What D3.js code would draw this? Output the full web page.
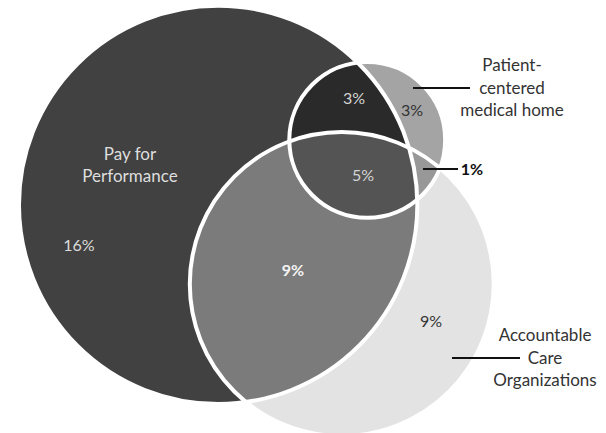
<!DOCTYPE html>
<html>
<head>
<meta charset="utf-8">
<script src="https://cdn.jsdelivr.net/npm/d3@7"></script>
<style>
  html, body { margin: 0; padding: 0; background: #fff; }
  svg { display: block; }
  text { font-family: Lato, "Open Sans", sans-serif; }
</style>
</head>
<body>
<div id="chart"></div>
<script>
// Program sets
const setNames = ["Pay for Performance", "Accountable Care Organizations", "Patient-centered medical home"];
const setKeys = ["p4p", "aco", "pcmh"];

// Share of respondents in each Venn region (percent)
const regionKeys   = ["p4p", "aco", "pcmh", "p4p_aco", "p4p_pcmh", "aco_pcmh", "all"];
const regionValues = [16, 9, 3, 9, 3, 1, 5];

// Circle layout in a 0–100 diagram space (centre x, centre y, radius)
const circleCx = [36.0, 56.4, 60.6];
const circleCy = [47.3, 65.6, 32.3];
const circleR  = [46.0, 35.1, 18.0];

const W = 606, H = 433;
const x = d3.scaleLinear().domain([0, 100]).range([0, 606]);
const y = d3.scaleLinear().domain([0, 100]).range([0, 433]);
const r = d3.scaleLinear().domain([0, 100]).range([0, 433]);

const circles = setKeys.map((k, i) => ({
  key: k, name: setNames[i],
  cx: x(circleCx[i]), cy: y(circleCy[i]), r: r(circleR[i])
}));
const C = Object.fromEntries(circles.map(c => [c.key, c]));
const val = Object.fromEntries(regionKeys.map((k, i) => [k, regionValues[i]]));

const svg = d3.select("#chart").append("svg").attr("width", W).attr("height", H);
const defs = svg.append("defs");

// one clip path per set circle
circles.forEach(c => {
  defs.append("clipPath").attr("id", "clip-" + c.key)
    .append("circle").attr("cx", c.cx).attr("cy", c.cy).attr("r", c.r);
});

function disc(parent, c, fill) {
  return parent.append("circle").attr("cx", c.cx).attr("cy", c.cy).attr("r", c.r).attr("fill", fill);
}

// region fills, painted from the outside in
disc(svg, C.aco, "#e3e3e3");
disc(svg, C.p4p, "#414141");
disc(svg.append("g").attr("clip-path", "url(#clip-p4p)"), C.aco, "#7b7b7b");
disc(svg, C.pcmh, "#a4a4a4");
disc(svg.append("g").attr("clip-path", "url(#clip-aco)"), C.pcmh, "#989898");
disc(svg.append("g").attr("clip-path", "url(#clip-p4p)"), C.pcmh, "#2a2a2a");
disc(svg.append("g").attr("clip-path", "url(#clip-p4p)")
        .append("g").attr("clip-path", "url(#clip-aco)"), C.pcmh, "#545454");

// white outlines of every set
svg.append("g").selectAll("circle").data(circles).join("circle")
  .attr("cx", d => d.cx).attr("cy", d => d.cy).attr("r", d => d.r)
  .attr("fill", "none").attr("stroke", "#fff").attr("stroke-width", 4);

// region value labels
const pct = v => v + "%";
const regionLabels = [
  { k: "p4p",      px: 79,  py: 251, fill: "#dcdcdc", bold: false },
  { k: "p4p_pcmh", px: 354, py: 104, fill: "#d4d4d4", bold: false },
  { k: "pcmh",     px: 412, py: 116, fill: "#333",    bold: false },
  { k: "all",      px: 363, py: 181, fill: "#d4d4d4", bold: false },
  { k: "p4p_aco",  px: 293, py: 276, fill: "#f4f4f4", bold: true },
  { k: "aco",      px: 431, py: 327, fill: "#333",    bold: false },
  { k: "aco_pcmh", px: 472, py: 175, fill: "#111",    bold: true }
];
svg.append("g").selectAll("text").data(regionLabels).join("text")
  .attr("x", d => d.px).attr("y", d => d.py)
  .attr("text-anchor", "middle")
  .attr("font-size", 16)
  .attr("font-weight", d => d.bold ? "bold" : "normal")
  .attr("fill", d => d.fill)
  .text(d => pct(val[d.k]));

// set name labels
function multiline(lines, cx, y0, lh, fill) {
  const t = svg.append("text").attr("text-anchor", "middle").attr("font-size", 17).attr("fill", fill);
  lines.forEach((s, i) => t.append("tspan").attr("x", cx).attr("y", y0 + i * lh).text(s));
}
multiline(["Pay for", "Performance"], 130, 160, 22, "#dedede");
multiline(["Patient-", "centered", "medical home"], 512, 71, 22.5, "#333");
multiline(["Accountable", "Care", "Organizations"], 545, 341, 22.5, "#333");

// leader lines
const leaders = [[413, 88, 470, 88], [423, 169, 458, 169], [452, 358, 520, 358]];
svg.append("g").selectAll("line").data(leaders).join("line")
  .attr("x1", d => d[0]).attr("y1", d => d[1]).attr("x2", d => d[2]).attr("y2", d => d[3])
  .attr("stroke", "#111").attr("stroke-width", 2);
</script>
</body>
</html>
